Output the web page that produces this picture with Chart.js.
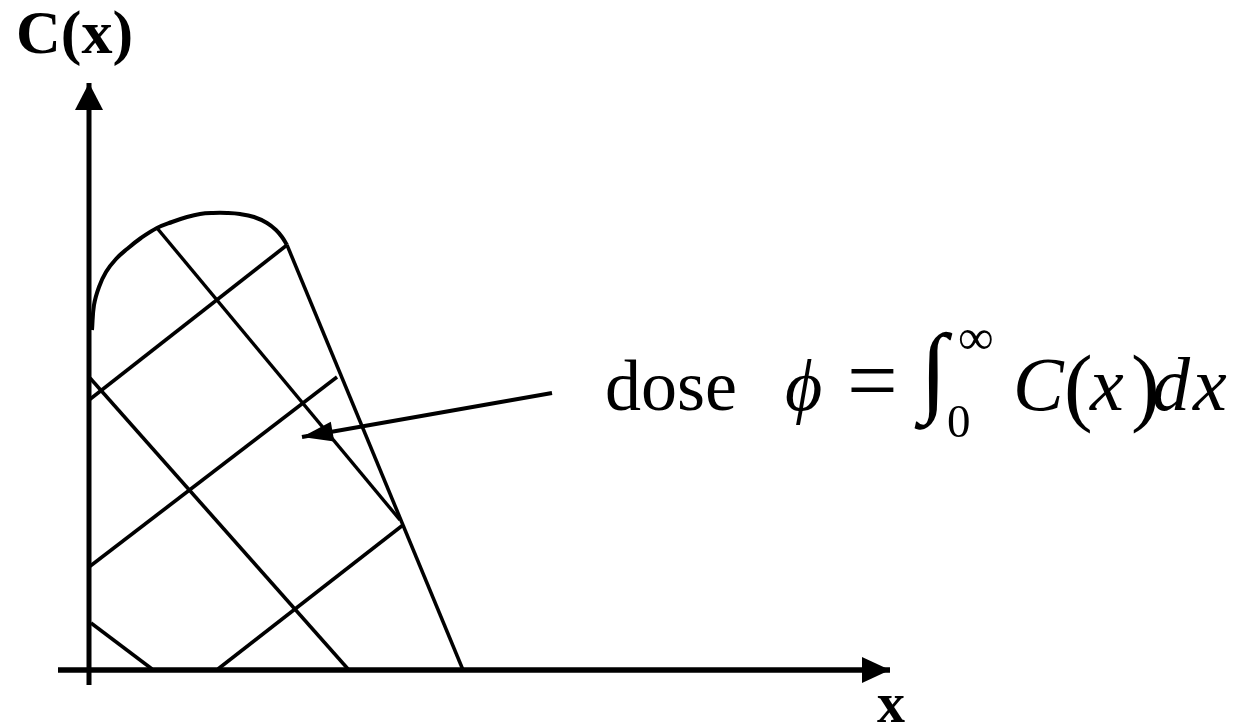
<!DOCTYPE html>
<html>
<head>
<meta charset="utf-8">
<script src="https://cdn.jsdelivr.net/npm/chart.js@4.4.1/dist/chart.umd.min.js"></script>
<style>
html,body{margin:0;padding:0;background:#fff;}
#wrap{width:1241px;height:728px;}
</style>
</head>
<body>
<div id="wrap"><canvas id="c" width="1241" height="728"></canvas></div>
<script>
// ---- data (diagram units: origin at the axes' crossing, y upward) ----
const curveX = [3, 5, 10, 17, 27, 38, 52, 68, 83, 98, 111, 124, 138, 151, 165, 178, 187, 193, 198];
const curveY = [340, 365, 383, 398, 411, 421, 432, 442, 448, 453, 456, 457, 457, 456, 453, 447, 440, 433, 425];
const tailX = [198, 374];
const tailY = [425, 0];
const hatchStartX = [0, 0, 129, 68, 1, 2];
const hatchStartY = [270, 103, 1, 442, 292, 47];
const hatchEndX = [198, 248, 314, 311, 259, 63];
const hatchEndY = [425, 293, 145, 150, 1, 1];
const yAxisX = [0, 0];
const yAxisY = [-15, 587];
const xAxisX = [-31, 801];
const xAxisY = [0, 0];
const doseArrowX = [463, 213];
const doseArrowY = [277, 233];
const axisLabels = ['C(x)', 'x'];
const doseLabel = 'dose';

const pts = (xs, ys) => xs.map((v, i) => ({x: v, y: ys[i]}));
const lineDs = (xs, ys, w, extra) => Object.assign({
  data: pts(xs, ys), showLine: true, borderColor: '#000', borderWidth: w,
  pointRadius: 0, fill: false, tension: 0, borderCapStyle: 'butt'
}, extra || {});

const datasets = [];
datasets.push(lineDs(curveX, curveY, 4, {tension: 0.4}));
datasets.push(lineDs(tailX, tailY, 3.5));
for (let i = 0; i < hatchStartX.length; i++) {
  datasets.push(lineDs([hatchStartX[i], hatchEndX[i]], [hatchStartY[i], hatchEndY[i]], 3.5));
}
datasets.push(lineDs(yAxisX, yAxisY, 5));
datasets.push(lineDs(xAxisX, xAxisY, 5.5));
datasets.push(lineDs(doseArrowX, doseArrowY, 4));

const arrows = [
  {xs: yAxisX, ys: yAxisY, len: 27, half: 14},
  {xs: xAxisX, ys: xAxisY, len: 28, half: 13},
  {xs: doseArrowX, ys: doseArrowY, len: 31, half: 10}
];

const SERIF = '"Liberation Serif", "DejaVu Serif", serif';

const decor = {
  id: 'decor',
  afterDatasetsDraw(chart) {
    const {ctx} = chart;
    const sx = chart.scales.x, sy = chart.scales.y;
    ctx.save();
    ctx.fillStyle = '#000';
    // arrow heads at the end of each arrow line
    arrows.forEach(a => {
      const x0 = sx.getPixelForValue(a.xs[0]), y0 = sy.getPixelForValue(a.ys[0]);
      const x1 = sx.getPixelForValue(a.xs[1]), y1 = sy.getPixelForValue(a.ys[1]);
      const d = Math.hypot(x1 - x0, y1 - y0);
      const ux = (x1 - x0) / d, uy = (y1 - y0) / d;
      const bx = x1 - ux * a.len, by = y1 - uy * a.len;
      ctx.beginPath();
      ctx.moveTo(x1, y1);
      ctx.lineTo(bx - uy * a.half, by + ux * a.half);
      ctx.lineTo(bx + uy * a.half, by - ux * a.half);
      ctx.closePath();
      ctx.fill();
    });
    ctx.textBaseline = 'alphabetic';
    ctx.textAlign = 'left';
    // axis labels
    ctx.font = 'bold 62px ' + SERIF;
    ctx.fillText(axisLabels[0], 16, 53);
    ctx.font = 'bold 56px ' + SERIF;
    ctx.fillText(axisLabels[1], 877, 722);
    // formula
    ctx.font = '72px ' + SERIF;
    ctx.fillText(doseLabel, 605, 410);
    ctx.font = 'italic 72px ' + SERIF;
    ctx.fillText('\u03D5', 785, 410);
    ctx.font = '90px ' + SERIF;
    ctx.fillText('=', 847, 411);
    ctx.font = 'italic 100px ' + SERIF;
    ctx.fillText('\u222B', 920, 403);
    ctx.font = '47px ' + SERIF;
    ctx.fillText('0', 947, 437);
    ctx.font = '50px ' + SERIF;
    ctx.fillText('\u221E', 958, 354);
    ctx.font = 'italic 76px ' + SERIF;
    ctx.fillText('C', 1013, 410);
    ctx.font = '86px ' + SERIF;
    ctx.fillText('(', 1064, 415);
    ctx.font = 'italic 76px ' + SERIF;
    ctx.fillText('x', 1090, 410);
    ctx.font = '86px ' + SERIF;
    ctx.fillText(')', 1131, 415);
    ctx.font = 'italic 76px ' + SERIF;
    ctx.fillText('d', 1152, 410);
    ctx.fillText('x', 1193, 410);
    ctx.restore();
  }
};

new Chart(document.getElementById('c'), {
  type: 'scatter',
  data: {datasets},
  options: {
    responsive: false,
    animation: false,
    events: [],
    layout: {padding: 0},
    plugins: {legend: {display: false}, tooltip: {enabled: false}},
    scales: {
      x: {type: 'linear', min: -89, max: 1152, display: false},
      y: {type: 'linear', min: -58, max: 670, display: false}
    }
  },
  plugins: [decor]
});
</script>
</body>
</html>
